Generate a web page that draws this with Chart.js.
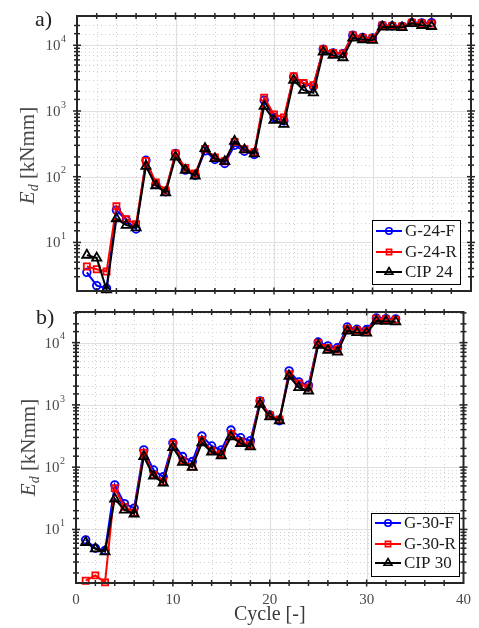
<!DOCTYPE html>
<html>
<head>
<meta charset="utf-8">
<script src="https://cdn.jsdelivr.net/npm/chart.js@4.4.1/dist/chart.umd.min.js"></script>
<style>
  body { margin: 0; background: #fff; }
  canvas { position: absolute; left: 0; }
</style>
</head>
<body>
<canvas id="chartA" width="479" height="300" style="top:0"></canvas>
<canvas id="chartB" width="479" height="328" style="top:300px"></canvas>
<script>
// dissipated energy per cycle, kNmm
const cycles24 = [1,2,3,4,5,6,7,8,9,10,11,12,13,14,15,16,17,18,19,20,21,22,23,24,25,26,27,28,29,30,31,32,33,34,35,36];
const g24F = [3.5,2.2,2.0,31,21.8,16,178,76,59,225,126,105,247,183,159,301,244,218,1460,794,708,3300,2610,2380,8690,7640,7470,14200,13100,12900,20100,19700,19400,22100,21900,22100];
const g24R = [4.3,3.9,3.6,35.6,22.6,19,174,82,62,225,136,112,265,196,172,339,262,236,1600,883,794,3380,2670,2470,8690,7640,7470,14200,13100,12900,20100,19700,19400,22100,21600,21400];
const cip24 = [6.4,5.8,1.9,23,18.3,16.7,144,73,57,200,126,103,269,189,170,347,257,223,1180,725,630,2940,2070,1900,7920,7050,6490,12900,12200,11900,19000,19000,18600,21400,20100,19400];

const cycles30 = [1,2,3,4,5,6,7,8,9,10,11,12,13,14,15,16,17,18,19,20,21,22,23,24,25,26,27,28,29,30,31,32,33];
const g30F = [6.8,5.0,4.6,52,26,22,189,90,70,247,148,123,316,219,189,394,297,266,1160,686,556,3520,2340,2070,10200,8850,8320,17800,16400,16200,24800,24200,23900];
const g30R = [1.50,1.83,1.41,46,23,18.7,171,75,59,235,127,102,273,184,163,340,257,227,1160,686,584,3110,2200,1900,9880,8220,7730,16700,15800,15400,24200,23700,23400];
const cip30 = [6.2,4.9,4.4,31,20.6,17.8,148,72,56,208,120,100,247,175,153,308,241,213,1030,645,556,2890,1900,1680,9060,7540,7080,15400,14500,14300,22200,22000,21700];

const labelsA = ['G-24-F', 'G-24-R', 'CIP 24'];
const labelsB = ['G-30-F', 'G-30-R', 'CIP 30'];
const xTickLabels = ['0', '10', '20', '30', '40'];

const FONT = '"Liberation Serif", "DejaVu Serif", serif';
const AXIS = '#262626';
const TEXT = '#4a4a4a';

const styles = [
  { color: '#0000ff', pointStyle: 'circle', radius: 3.8, order: 2 },
  { color: '#ff0000', pointStyle: 'rect', radius: 4.3, order: 1 },
  { color: '#000000', pointStyle: 'triangle', radius: 5.3, order: 0 }
];

function series(xs, ys) {
  return xs.map((x, i) => ({ x: x, y: ys[i] }));
}

function makeDatasets(xs, lists, labels) {
  return lists.map((ys, i) => ({
    label: labels[i],
    data: series(xs, ys),
    borderColor: styles[i].color,
    backgroundColor: 'rgba(0,0,0,0)',
    borderWidth: 2,
    pointStyle: styles[i].pointStyle,
    pointRadius: styles[i].radius,
    pointBorderWidth: 1.8,
    pointBorderColor: styles[i].color,
    pointBackgroundColor: 'rgba(0,0,0,0)',
    order: styles[i].order,
    clip: false,
    tension: 0
  }));
}

function line(ctx, x1, y1, x2, y2) {
  ctx.beginPath();
  ctx.moveTo(x1, y1);
  ctx.lineTo(x2, y2);
  ctx.stroke();
}

function isPow10(v) {
  const e = Math.log10(v);
  return Math.abs(e - Math.round(e)) < 1e-9;
}

// MATLAB-ish axes: dotted minor grid, solid major grid, boxed frame with ticks both sides
const frame = {
  id: 'frame',
  beforeDatasetsDraw(chart, args, o) {
    const { ctx, chartArea: a, scales: { x, y } } = chart;
    ctx.save();
    ctx.beginPath();
    ctx.rect(a.left, a.top, a.right - a.left, a.bottom - a.top);
    ctx.clip();
    ctx.lineWidth = 1;
    ctx.strokeStyle = '#d2d2d2';
    ctx.setLineDash([1, 3]);
    for (let v = 2; v < 40; v += 2) {
      if (v % 10 === 0) continue;
      const px = Math.round(x.getPixelForValue(v)) + 0.5;
      line(ctx, px, a.top, px, a.bottom);
    }
    y.ticks.forEach(t => {
      if (isPow10(t.value)) return;
      const py = Math.round(y.getPixelForValue(t.value)) + 0.5;
      line(ctx, a.left, py, a.right, py);
    });
    ctx.setLineDash([]);
    ctx.strokeStyle = '#e0e0e0';
    ctx.lineWidth = 1.2;
    [10, 20, 30].forEach(v => {
      const px = Math.round(x.getPixelForValue(v)) + 0.5;
      line(ctx, px, a.top, px, a.bottom);
    });
    y.ticks.forEach(t => {
      if (!isPow10(t.value)) return;
      const py = Math.round(y.getPixelForValue(t.value)) + 0.5;
      line(ctx, a.left, py, a.right, py);
    });
    ctx.restore();
  },
  afterDraw(chart, args, o) {
    const { ctx, chartArea: a, scales: { x, y } } = chart;
    ctx.save();
    ctx.strokeStyle = AXIS;
    ctx.lineWidth = 1.5;
    // ticks on all four sides
    for (let v = 2; v < 40; v += 2) {
      const px = x.getPixelForValue(v);
      const len = v % 10 === 0 ? 3.5 : 3;
      line(ctx, px, a.top - len, px, a.top + len);
      line(ctx, px, a.bottom - len, px, a.bottom + len);
    }
    y.ticks.forEach(t => {
      if (t.value <= y.min || t.value >= y.max) return;
      const py = y.getPixelForValue(t.value);
      const len = isPow10(t.value) ? 4 : 3;
      line(ctx, a.left - len, py, a.left + len, py);
      line(ctx, a.right - len, py, a.right + len, py);
    });
    ctx.lineWidth = 2;
    ctx.strokeRect(a.left, a.top, a.right - a.left, a.bottom - a.top);

    // y tick labels 10^n
    ctx.fillStyle = TEXT;
    ctx.textBaseline = 'middle';
    y.ticks.forEach(t => {
      if (!isPow10(t.value) || t.value < y.min || t.value > y.max) return;
      const exp = String(Math.round(Math.log10(t.value)));
      const py = y.getPixelForValue(t.value);
      ctx.font = '10px ' + FONT;
      const ew = ctx.measureText(exp).width;
      const right = a.left - 11;
      ctx.textAlign = 'right';
      ctx.fillText(exp, right, py - 6);
      ctx.font = '15px ' + FONT;
      ctx.fillText('10', right - ew - 0.5, py + 1);
    });

    // y axis title E_d [kNmm]
    ctx.save();
    ctx.translate(o.titleX, (a.top + a.bottom) / 2 + o.titleShift);
    ctx.rotate(-Math.PI / 2);
    ctx.fillStyle = TEXT;
    ctx.textBaseline = 'alphabetic';
    ctx.textAlign = 'left';
    const fE = 'italic 21px ' + FONT, fd = 'italic 14px ' + FONT, fr = '21px ' + FONT;
    ctx.font = fE; const wE = ctx.measureText('E').width;
    ctx.font = fd; const wd = ctx.measureText('d').width;
    ctx.font = fr; const wr = ctx.measureText(' [kNmm]').width;
    let cx = -(wE + wd + wr) / 2;
    ctx.font = fE; ctx.fillText('E', cx, 7); cx += wE;
    ctx.font = fd; ctx.fillText('d', cx, 11); cx += wd;
    ctx.font = fr; ctx.fillText(' [kNmm]', cx, 7);
    ctx.restore();

    // panel letter
    ctx.fillStyle = '#222';
    ctx.font = '22px ' + FONT;
    ctx.textAlign = 'left';
    ctx.textBaseline = 'alphabetic';
    ctx.fillText(o.panel, o.panelX, o.panelY);

    // legend box
    const L = o.legend;
    ctx.fillStyle = '#fff';
    ctx.fillRect(L.x, L.y, L.w, L.h);
    ctx.strokeStyle = '#000';
    ctx.lineWidth = 1;
    ctx.strokeRect(L.x + 0.5, L.y + 0.5, L.w, L.h);
    chart.data.datasets.forEach((ds, i) => {
      const ry = L.rows[i];
      ctx.strokeStyle = ds.borderColor;
      ctx.lineWidth = 2;
      line(ctx, L.x + 4, ry, L.x + 30, ry);
      ctx.fillStyle = 'rgba(0,0,0,0)';
      ctx.lineWidth = 1.6;
      Chart.helpers.drawPoint(ctx, {
        pointStyle: ds.pointStyle,
        radius: ds.pointRadius * 0.85,
        borderWidth: 1.6,
        rotation: 0
      }, L.x + 17, ry);
      ctx.fillStyle = '#1a1a1a';
      ctx.font = '17px ' + FONT;
      ctx.textAlign = 'left';
      ctx.textBaseline = 'middle';
      ctx.fillText(ds.label, L.x + 33, ry + 1);
    });
    ctx.restore();
  }
};

function makeChart(id, datasets, yMin, yMax, frameOpts, pad, xHeight, showX) {
  return new Chart(document.getElementById(id), {
    type: 'line',
    data: { datasets: datasets },
    options: {
      responsive: false,
      animation: false,
      events: [],
      layout: { autoPadding: false, padding: pad },
      plugins: {
        legend: { display: false },
        tooltip: { enabled: false },
        frame: frameOpts
      },
      scales: {
        x: {
          type: 'linear',
          min: 0,
          max: 40,
          grid: { display: false, drawTicks: false },
          border: { display: false },
          ticks: {
            display: showX,
            stepSize: 10,
            padding: 8,
            color: TEXT,
            font: { family: FONT, size: 15 },
            callback: (v) => xTickLabels[v / 10]
          },
          title: {
            display: showX,
            text: 'Cycle [-]',
            color: '#3a3a3a',
            font: { family: FONT, size: 20 },
            padding: { top: 0, bottom: 1 }
          },
          afterFit: (s) => { s.height = xHeight; }
        },
        y: {
          type: 'logarithmic',
          min: yMin,
          max: yMax,
          grid: { display: false, drawTicks: false },
          border: { display: false },
          ticks: { display: false, autoSkip: false },
          afterFit: (s) => { s.width = frameOpts.axisLeft; }
        }
      }
    },
    plugins: [frame]
  });
}

makeChart('chartA',
  makeDatasets(cycles24, [g24F, g24R, cip24], labelsA),
  1.82, 27900,
  {
    axisLeft: 77, titleX: 27, titleShift: 2, panel: 'a)', panelX: 35, panelY: 26,
    legend: { x: 372, y: 220, w: 88, h: 64, rows: [231, 252, 272] }
  },
  { top: 16, right: 8, left: 0, bottom: 0 }, 9, false);

makeChart('chartB',
  makeDatasets(cycles30, [g30F, g30R, cip30], labelsB),
  1.38, 31000,
  {
    axisLeft: 76, titleX: 28, titleShift: 0, panel: 'b)', panelX: 36, panelY: 24,
    legend: { x: 371, y: 213, w: 88, h: 63, rows: [223, 244, 263] }
  },
  { top: 12, right: 10, left: 0, bottom: 0 }, 45, true);
</script>
</body>
</html>
